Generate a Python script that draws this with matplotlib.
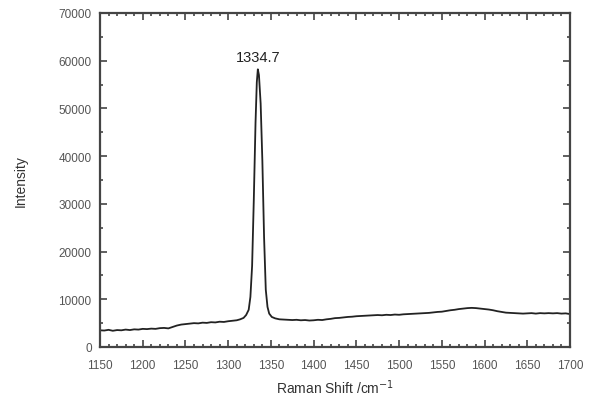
import matplotlib
matplotlib.use("Agg")
import matplotlib.pyplot as plt
from matplotlib.ticker import MultipleLocator

plt.rcParams['font.family'] = ['Liberation Sans', 'DejaVu Sans']

shift = [1150, 1155, 1160, 1165, 1170, 1175, 1180, 1185, 1190, 1195, 1200, 1205, 1210,
         1215, 1220, 1225, 1230, 1235, 1240, 1245, 1250, 1255, 1260, 1265, 1270, 1275,
         1280, 1285, 1290, 1295, 1300, 1305, 1310, 1314, 1318, 1321, 1324, 1326, 1328,
         1330, 1332, 1333.5, 1334.7, 1336, 1338, 1340, 1342, 1344, 1346, 1348, 1351,
         1355, 1360, 1365, 1370, 1375, 1380, 1385, 1390, 1395, 1400, 1405, 1410, 1415,
         1420, 1425, 1430, 1435, 1440, 1445, 1450, 1455, 1460, 1465, 1470, 1475, 1480,
         1485, 1490, 1495, 1500, 1505, 1510, 1515, 1520, 1525, 1530, 1535, 1540, 1545,
         1550, 1555, 1560, 1565, 1570, 1575, 1580, 1585, 1590, 1595, 1600, 1605, 1610,
         1615, 1620, 1625, 1630, 1635, 1640, 1645, 1650, 1655, 1660, 1665, 1670, 1675,
         1680, 1685, 1690, 1695, 1700]
intensity = [3500, 3450, 3600, 3400, 3550, 3500, 3650, 3550, 3700, 3650, 3800, 3750, 3850,
             3800, 3950, 4000, 3900, 4200, 4500, 4700, 4800, 4900, 5000, 4950, 5100, 5050,
             5200, 5150, 5300, 5250, 5400, 5500, 5600, 5800, 6100, 6700, 7800, 10500, 17000,
             31000, 47000, 55500, 58200, 57000, 51000, 39000, 23000, 12000, 8400, 7000, 6300,
             6000, 5800, 5750, 5700, 5650, 5700, 5600, 5650, 5550, 5600, 5700, 5650, 5800,
             5900, 6050, 6100, 6200, 6300, 6350, 6450, 6500, 6550, 6600, 6650, 6700, 6650,
             6750, 6700, 6800, 6750, 6850, 6900, 6950, 7000, 7050, 7100, 7150, 7250, 7350,
             7400, 7550, 7700, 7800, 7950, 8050, 8150, 8200, 8150, 8050, 7950, 7850, 7700,
             7500, 7350, 7200, 7150, 7100, 7050, 7000, 7050, 7100, 7000, 7100, 7050, 7100,
             7050, 7100, 7000, 7050, 6900]

xticks = [1150, 1200, 1250, 1300, 1350, 1400, 1450, 1500, 1550, 1600, 1650, 1700]
yticks = [0, 10000, 20000, 30000, 40000, 50000, 60000, 70000]
peak_label = "1334.7"

fig = plt.figure(figsize=(5.93, 4.02), dpi=100)
ax = fig.add_axes([100/593, 54/402, 470/593, 334/402])
ax.plot(shift, intensity, color='#222222', linewidth=1.3)
ax.set_xlim(1150, 1700)
ax.set_ylim(0, 70000)
ax.set_xticks(xticks)
ax.set_yticks(yticks)
ax.xaxis.set_minor_locator(MultipleLocator(10))
ax.yaxis.set_minor_locator(MultipleLocator(5000))
ax.tick_params(which='both', direction='in', top=True, right=True, colors='#444444',
               labelcolor='#555555', labelsize=8.5, width=1.2)
ax.tick_params(which='major', length=5, pad=6)
ax.tick_params(axis='x', which='major', pad=9)
ax.tick_params(which='minor', length=2.5)
for s in ax.spines.values():
    s.set_color('#444444')
    s.set_linewidth(1.6)
ax.set_xlabel("Raman Shift /cm$^{-1}$", fontsize=10, color='#333333', labelpad=4)
ax.set_ylabel("Intensity", fontsize=10, color='#333333', labelpad=22)
ax.annotate(peak_label, xy=(1334.7, 58200), xytext=(0, 4), textcoords='offset points',
            ha='center', va='bottom', fontsize=10.5, color='#222222')
fig.savefig("out.png", dpi=100)
